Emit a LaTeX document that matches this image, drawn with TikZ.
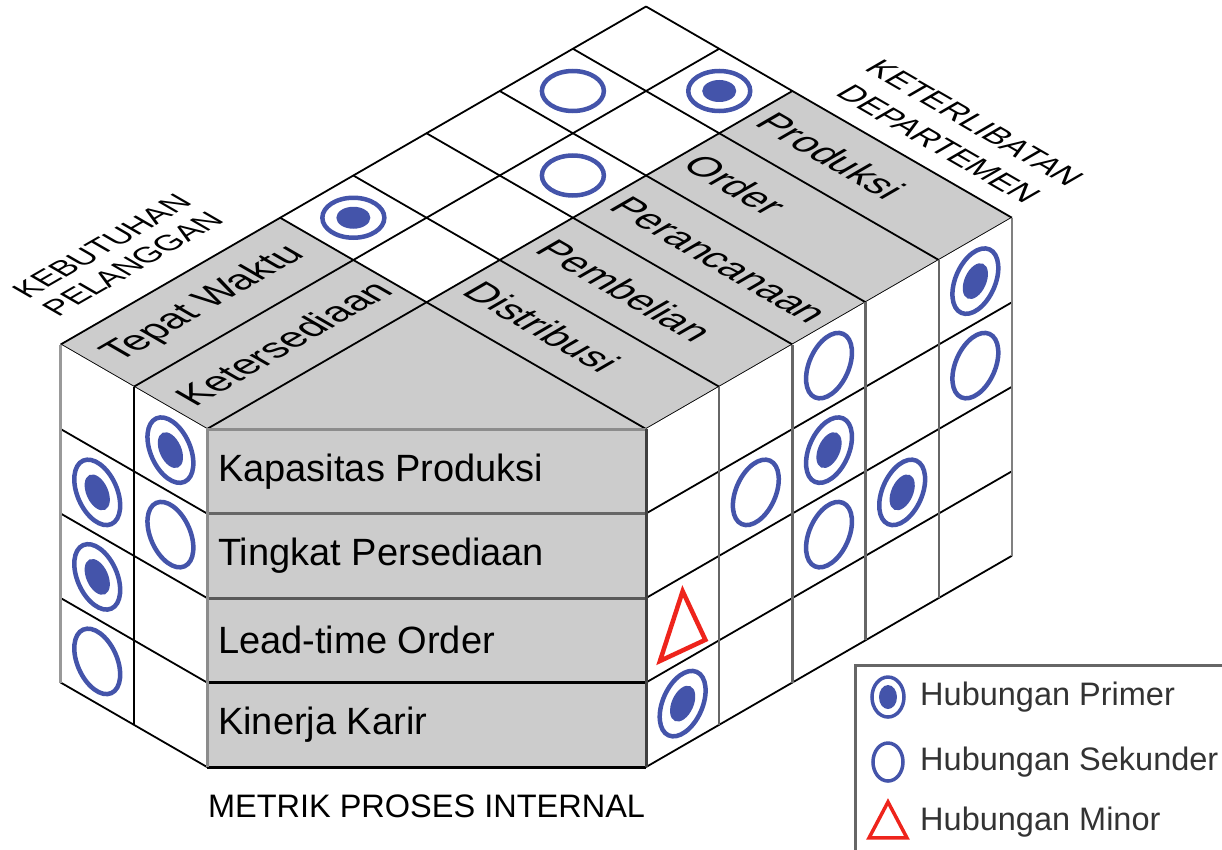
\documentclass[tikz,border=0pt]{standalone}
\usepackage{fontspec}
\setmainfont{Liberation Sans}
\definecolor{roofgray}{RGB}{204,204,204}
\definecolor{relblue}{RGB}{68,84,170}
\definecolor{relred}{RGB}{238,36,28}
\tikzset{
  grid line/.style={line width=1.8pt,black},
  wall edge/.style={line width=2.5pt,black!60},
  face line/.style={line width=3pt},
  relring/.style={draw=relblue,line width=4.5pt},
  reldot/.style={fill=relblue},
  on roof/.style={cm={0.866,0.5,-0.866,0.5,(0,0)}},
  on left/.style={cm={-0.866,0.5,0,1,(0,0)}},
  on right/.style={cm={0.866,0.5,0,1,(5.196,0)}},
  primary/.pic={\path[relring] (0,0) ellipse [x radius=31pt,y radius=20pt];
    \path[reldot] (0,0) ellipse [x radius=17pt,y radius=11pt];},
  secondary/.pic={\path[relring] (0,0) ellipse [x radius=31pt,y radius=20pt];},
  roof label/.style={transform shape,inner sep=0pt,anchor=west,font=\fontsize{39}{40}\selectfont},
  row label/.style={inner sep=0pt,anchor=west,font=\fontsize{38}{40}\selectfont},
  legend label/.style={inner sep=0pt,anchor=west,text=black!80,font=\fontsize{32.5}{34}\selectfont}
}
\begin{document}
\begin{tikzpicture}[x=84.5pt,y=84.5pt]
\useasboundingbox (-2.4497,-4.9704) rectangle (12.0118,5.0769);
\begin{scope}[on roof]
  \fill[roofgray] (0,0) -- (3,0) -- (3,2) -- (0,2) -- cycle;
  \fill[roofgray] (3,-3) -- (8,-3) -- (8,0) -- (3,0) -- cycle;
  \fill[roofgray] (0,0) -- (3,0) -- (3,-3) -- cycle;
  \foreach \t in {0,1,2} \draw[grid line] (0,\t) -- (8,\t);
  \foreach \s in {3,...,8} \draw[grid line] (\s,-3) -- (\s,2);
  \draw[grid line] (0,0) -- (0,2) (3,-3) -- (8,-3);
  \coordinate (rp1) at (3.5,1.5);
  \coordinate (rp2) at (7.5,0.5);
  \coordinate (rs1) at (6.5,1.5);
  \coordinate (rs2) at (5.5,0.5);
  \node[roof label] (tepat) at (0.18,1.5) {Tepat Waktu};
  \node[roof label] (sedia) at (0.18,0.5) {Ketersediaan};
  \foreach \s/\name in {3/Distribusi,4/Pembelian,5/Perancanaan,6/Order,7/Produksi}
    \node[roof label,rotate=-90] (dept\s) at (\s+0.5,-0.13) {\name};
  \node[roof label,anchor=center,align=center,font=\fontsize{31}{35.5}\selectfont]
    (pelanggan) at (1.45,2.67) {KEBUTUHAN\\PELANGGAN};
  \node[roof label,anchor=center,align=center,rotate=-90,font=\fontsize{32}{42}\selectfont]
    (departemen) at (8.62,-1.63) {KETERLIBATAN\\DEPARTEMEN};
\end{scope}
\begin{scope}[on left]
  \fill[white] (0,0) -- (2,0) -- (2,-4) -- (0,-4) -- cycle;
  \foreach \z in {1,...,4} \draw[grid line] (0,-\z) -- (2,-\z);
  \draw[line width=2pt] (1,0) -- (1,-4);
  \draw[wall edge,black!40] (2,0) -- (2,-4);
  \coordinate (lp1) at (1.5,-1.5);
  \coordinate (lp2) at (1.5,-2.5);
  \coordinate (lp3) at (0.5,-0.5);
  \coordinate (ls1) at (1.5,-3.5);
  \coordinate (ls2) at (0.5,-1.5);
\end{scope}
\begin{scope}[on right]
  \fill[white] (0,0) -- (5,0) -- (5,-4) -- (0,-4) -- cycle;
  \foreach \z in {1,...,4} \draw[grid line] (0,-\z) -- (5,-\z);
  \foreach \s in {1,...,4} \draw[wall edge] (\s,0) -- (\s,-4);
  \draw[wall edge,black!50] (5,0) -- (5,-4);
  \coordinate (wp1) at (0.5,-3.5);
  \coordinate (wp2) at (2.5,-1.5);
  \coordinate (wp3) at (3.5,-2.5);
  \coordinate (wp4) at (4.5,-0.5);
  \coordinate (ws1) at (1.5,-1.5);
  \coordinate (ws2) at (2.5,-0.5);
  \coordinate (ws3) at (2.5,-2.5);
  \coordinate (ws4) at (4.5,-1.5);
  \draw[relred,line width=4.5pt] (0.5,-2.17) -- (0.81,-2.9) -- (0.19,-2.84) -- cycle;
\end{scope}
\fill[roofgray] (0,0) rectangle (5.196,-4);
\foreach \z/\c in {1/black!60,2/black!65,3/black,4/black}
  \draw[face line,\c] (0,-\z) -- (5.196,-\z);
\draw[face line,black!45] (0,-4) -- (0,0) -- (5.196,0);
\draw[face line,black!75] (5.196,0) -- (5.196,-4);
\foreach \z/\name in {1/Kapasitas Produksi,2/Tingkat Persediaan,3/Lead-time Order,4/Kinerja Karir}
  \node[row label] (row\z) at (0.13,0.5-\z) {\name};
\node[font=\fontsize{32.5}{34}\selectfont] (metrik) at (2.598,-4.4615) {METRIK PROSES INTERNAL};
\foreach \c in {rp1,rp2} \pic at (\c) {primary};
\foreach \c in {rs1,rs2} \pic at (\c) {secondary};
\foreach \c in {lp1,lp2,lp3} \pic[rotate=114,xscale=1.12,yscale=0.99] at (\c) {primary};
\foreach \c in {ls1,ls2} \pic[rotate=114,xscale=1.12,yscale=0.99] at (\c) {secondary};
\foreach \c in {wp1,wp2,wp3,wp4} \pic[rotate=66,xscale=1.12,yscale=0.99] at (\c) {primary};
\foreach \c in {ws1,ws2,ws3,ws4} \pic[rotate=66,xscale=1.12,yscale=0.99] at (\c) {secondary};
\draw[line width=3pt,black!60] (7.669,-5.2) rectangle (12.3,-2.793);
\coordinate (lg1) at (8.059,-3.172);
\coordinate (lg2) at (8.059,-3.941);
\coordinate (lg3) at (8.059,-4.651);
\path[relring,line width=3.5pt] (lg1) ellipse [x radius=16pt,y radius=20pt];
\path[reldot] (lg1) ellipse [x radius=9pt,y radius=12pt];
\path[relring,line width=3.5pt] (lg2) ellipse [x radius=15pt,y radius=19pt];
\draw[relred,line width=3.5pt] (lg3) ++(0,0.237) -- ++(0.225,-0.426) -- ++(-0.45,0) -- cycle;
\node[legend label] (leg1) at (8.438,-3.172) {Hubungan Primer};
\node[legend label] (leg2) at (8.438,-3.941) {Hubungan Sekunder};
\node[legend label] (leg3) at (8.438,-4.651) {Hubungan Minor};
\end{tikzpicture}
\end{document}
